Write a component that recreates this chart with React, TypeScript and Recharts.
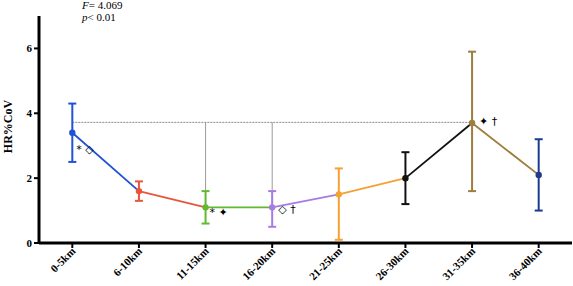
import React from 'react';
import { ComposedChart, Line, XAxis, YAxis, ErrorBar, ReferenceLine, LabelList } from 'recharts';

const categories = ['0-5km', '6-10km', '11-15km', '16-20km', '21-25km', '26-30km', '31-35km', '36-40km'];
const means = [3.4, 1.6, 1.1, 1.1, 1.5, 2.0, 3.7, 2.1];
const upper = [4.3, 1.9, 1.6, 1.6, 2.3, 2.8, 5.9, 3.2];
const lower = [2.5, 1.3, 0.6, 0.5, 0.1, 1.2, 1.6, 1.0];
const notes = ['* \u25C7', '', '* \u2726', '\u25C7 \u2020', '', '', '\u2726 \u2020', ''];
const colors = ['#1f52d6', '#e8553c', '#62b830', '#a67ce2', '#f5a133', '#111111', '#9e7d3e', '#1d3a8e'];
const yTicks = [0, 2, 4, 6];
const refLevel = 3.72;

const rows = categories.map((name, i) => {
  const row: Record<string, any> = { name, mean: means[i], note: notes[i] };
  for (let j = 0; j < categories.length - 1; j++) {
    row[`s${j}`] = i === j || i === j + 1 ? means[i] : null;
  }
  row[`p${i}`] = means[i];
  row[`e${i}`] = [means[i] - lower[i], upper[i] - means[i]];
  return row;
});

// small nudges for the significance markers next to each point
const noteOffset: Record<number, [number, number]> = {
  0: [4, 20],
  2: [4, 9],
  3: [6, 6],
  6: [7, 2],
};

const serif = '"Liberation Serif", "Times New Roman", serif';

const XTick = (props: any) => {
  const { x, y, payload } = props;
  return (
    <g transform={`translate(${x + 1},${y - 1})`}>
      <text
        transform="rotate(-45)"
        textAnchor="end"
        dy={4}
        fontFamily={serif}
        fontWeight="bold"
        fontSize={11}
        fill="#000"
      >
        {payload.value}
      </text>
    </g>
  );
};

const NoteLabel = (props: any) => {
  const { x, y, value, index } = props;
  if (!value) return null;
  const [dx, dy] = noteOffset[index] ?? [5, 5];
  return (
    <text x={x + dx} y={y + dy} fontSize={11} fontFamily='"DejaVu Sans", sans-serif' fill="#000">
      {value}
    </text>
  );
};

export default function App() {
  return (
    <div style={{ position: 'absolute', left: 0, top: 0, width: 573, height: 286, background: '#fff' }}>
      <ComposedChart width={573} height={286} data={rows} margin={{ top: 16, right: 1, bottom: 0, left: 0 }}>
        <XAxis
          dataKey="name"
          scale="band"
          height={43}
          tick={<XTick />}
          interval={0}
          tickSize={5}
          axisLine={{ stroke: '#000', strokeWidth: 3 }}
          tickLine={{ stroke: '#000', strokeWidth: 2 }}
        />
        <YAxis
          width={39}
          domain={[0, 7]}
          ticks={yTicks}
          tickSize={5}
          axisLine={{ stroke: '#000', strokeWidth: 3 }}
          tickLine={{ stroke: '#000', strokeWidth: 2 }}
          tick={{ fontFamily: serif, fontWeight: 'bold', fontSize: 11, fill: '#000' }}
          label={{
            value: 'HR%CoV',
            angle: -90,
            position: 'insideLeft',
            offset: 2,
            dx: 6,
            dy: -3,
            style: { fontFamily: serif, fontWeight: 'bold', fontSize: 12, fill: '#000', textAnchor: 'middle' },
          }}
        />
        <ReferenceLine
          segment={[{ x: categories[0], y: refLevel }, { x: categories[6], y: refLevel }]}
          stroke="#8a8a8a"
          strokeDasharray="2 1"
          strokeWidth={1}
        />
        <ReferenceLine
          segment={[{ x: categories[2], y: refLevel }, { x: categories[2], y: means[2] }]}
          stroke="#9a9a9a"
          strokeWidth={1}
        />
        <ReferenceLine
          segment={[{ x: categories[3], y: refLevel }, { x: categories[3], y: means[3] }]}
          stroke="#9a9a9a"
          strokeWidth={1}
        />
        {categories.slice(0, -1).map((_, j) => (
          <Line
            key={`s${j}`}
            dataKey={`s${j}`}
            stroke={colors[j]}
            strokeWidth={1.8}
            dot={false}
            activeDot={false}
            isAnimationActive={false}
          />
        ))}
        {categories.map((_, i) => (
          <Line
            key={`p${i}`}
            dataKey={`p${i}`}
            stroke="none"
            dot={{ r: 3.2, fill: colors[i], stroke: colors[i], strokeWidth: 0 }}
            activeDot={false}
            isAnimationActive={false}
          >
            <ErrorBar dataKey={`e${i}`} stroke={colors[i]} strokeWidth={2} width={4} />
          </Line>
        ))}
        <Line dataKey="mean" stroke="none" dot={false} activeDot={false} isAnimationActive={false}>
          <LabelList dataKey="note" content={<NoteLabel />} />
        </Line>
      </ComposedChart>
      <div
        style={{
          position: 'absolute',
          left: 82,
          top: -1,
          fontFamily: serif,
          fontSize: 11,
          lineHeight: '12px',
          color: '#000',
        }}
      >
        <div>
          <i>F</i>= 4.069
        </div>
        <div>
          <i>p</i>&lt; 0.01
        </div>
      </div>
    </div>
  );
}
